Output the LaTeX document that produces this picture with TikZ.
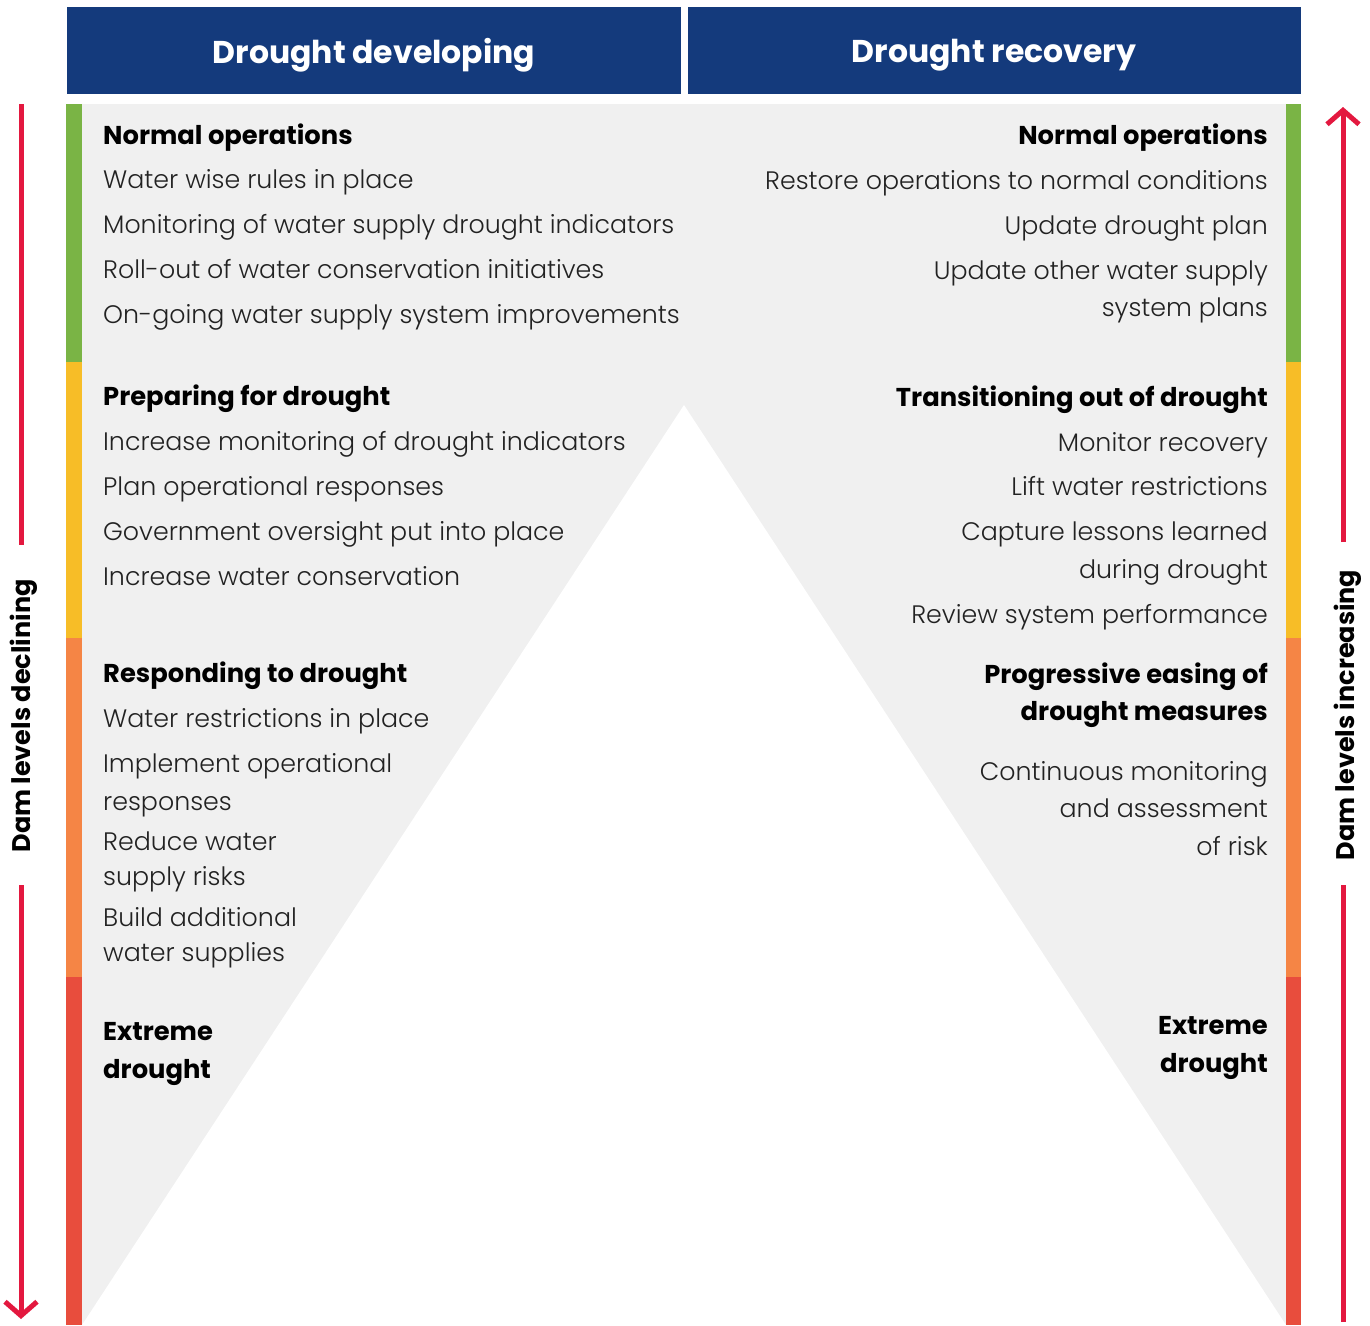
\documentclass[tikz,border=0pt]{standalone}
\usepackage{fontspec}
\setmainfont{Poppins}[UprightFont=* Light, BoldFont=* Bold]
\usetikzlibrary{arrows.meta}
\definecolor{navy}{HTML}{143A7C}
\definecolor{bgray}{HTML}{F0F0F0}
\definecolor{bgreen}{HTML}{7AB445}
\definecolor{byellow}{HTML}{F7BD27}
\definecolor{borange}{HTML}{F58545}
\definecolor{bred}{HTML}{E84D3D}
\definecolor{arrred}{HTML}{E3183F}
\definecolor{txt}{HTML}{222222}
\tikzset{
  hdr/.style={text=white, font=\fontsize{31.5}{36}\selectfont\bfseries},
  itemL/.style={anchor=mid west, inner sep=0pt, text=txt, font=\fontsize{25.3}{30}\selectfont},
  itemR/.style={anchor=mid east, inner sep=0pt, text=txt, font=\fontsize{25.3}{30}\selectfont},
  headL/.style={itemL, text=black, font=\fontsize{25.8}{30}\selectfont\bfseries},
  headR/.style={itemR, text=black, font=\fontsize{25.8}{30}\selectfont\bfseries},
  side/.style={rotate=90, inner sep=0pt, text=black, font=\fontsize{25.5}{30}\selectfont\bfseries},
  redline/.style={draw=arrred, line width=5pt},
  tip/.style={-{Straight Barb[length=14pt,width=32pt,line width=5pt]}},
}
\begin{document}
\begin{tikzpicture}[x=1pt, y=-1pt]
\useasboundingbox (0,0) rectangle (1370,1325);
% headers
\fill[navy] (67,7) rectangle (681,94);
\fill[navy] (688,7) rectangle (1301,94);
\node[hdr] (hL) at (374,55) {Drought developing};
\node[hdr] (hR) at (994,55) {Drought recovery};
% body
\fill[bgray] (67,104) rectangle (1301,1325);
\fill[white] (684,405) -- (82,1325) -- (1286,1325) -- cycle;
% colour bars
\fill[bgreen]  (66,104) rectangle (82,362);
\fill[byellow] (66,362) rectangle (82,638);
\fill[borange] (66,638) rectangle (82,977);
\fill[bred]    (66,977) rectangle (82,1325);
\fill[bgreen]  (1286,104) rectangle (1301,362);
\fill[byellow] (1286,362) rectangle (1301,638);
\fill[borange] (1286,638) rectangle (1301,977);
\fill[bred]    (1286,977) rectangle (1301,1325);
% side arrows
\node[side] (sL) at (24,716) {Dam levels declining};
\node[side] (sR) at (1348,715) {Dam levels increasing};
\coordinate (lTop) at (21,104);
\coordinate (lGa) at (21,545);
\coordinate (lGb) at (21,885);
\coordinate (lBot) at (21,1319);
\coordinate (rTop) at (1343,107);
\coordinate (rGa) at (1343,542);
\coordinate (rGb) at (1343,885);
\coordinate (rBot) at (1343,1322);
\draw[redline] (lTop) -- (lGa);
\draw[redline, tip] (lGb) -- (lBot);
\draw[redline, tip] (rGa) -- (rTop);
\draw[redline] (rGb) -- (rBot);
% left column
\node[headL] (l1) at (103,142) {Normal operations};
\node[itemL] (l2) at (103,186) {Water wise rules in place};
\node[itemL] (l3) at (103,231) {Monitoring of water supply drought indicators};
\node[itemL] (l4) at (103,276) {Roll-out of water conservation initiatives};
\node[itemL] (l5) at (103,321) {On-going water supply system improvements};
\node[headL] (l6) at (103,403) {Preparing for drought};
\node[itemL] (l7) at (103,448) {Increase monitoring of drought indicators};
\node[itemL] (l8) at (103,493) {Plan operational responses};
\node[itemL] (l9) at (103,538) {Government oversight put into place};
\node[itemL] (l10) at (103,583) {Increase water conservation};
\node[headL] (l11) at (103,680) {Responding to drought};
\node[itemL] (l12) at (103,725) {Water restrictions in place};
\node[itemL] (l13) at (103,770) {Implement operational};
\node[itemL] (l14) at (103,808) {responses};
\node[itemL] (l15) at (103,848) {Reduce water};
\node[itemL] (l16) at (103,883) {supply risks};
\node[itemL] (l17) at (103,924) {Build additional};
\node[itemL] (l18) at (103,959) {water supplies};
\node[headL] (l19) at (103,1038) {Extreme};
\node[headL] (l20) at (103,1076) {drought};
% right column
\node[headR] (r1) at (1268,142) {Normal operations};
\node[itemR] (r2) at (1268,187) {Restore operations to normal conditions};
\node[itemR] (r3) at (1268,232) {Update drought plan};
\node[itemR] (r4) at (1268,277) {Update other water supply};
\node[itemR] (r5) at (1268,314) {system plans};
\node[headR] (r6) at (1268,404) {Transitioning out of drought};
\node[itemR] (r7) at (1268,449) {Monitor recovery};
\node[itemR] (r8) at (1268,493) {Lift water restrictions};
\node[itemR] (r9) at (1268,538) {Capture lessons learned};
\node[itemR] (r10) at (1268,576) {during drought};
\node[itemR] (r11) at (1268,621) {Review system performance};
\node[headR] (r12) at (1268,681) {Progressive easing of};
\node[headR] (r13) at (1268,718) {drought measures};
\node[itemR] (r14) at (1268,778) {Continuous monitoring};
\node[itemR] (r15) at (1268,815) {and assessment};
\node[itemR] (r16) at (1268,853) {of risk};
\node[headR] (r17) at (1268,1032) {Extreme};
\node[headR] (r18) at (1268,1070) {drought};
\end{tikzpicture}
\end{document}
